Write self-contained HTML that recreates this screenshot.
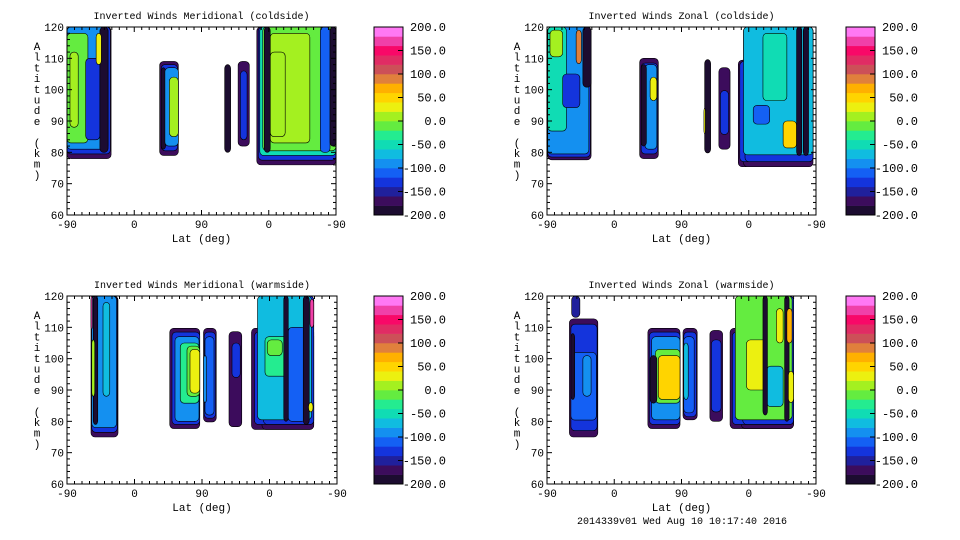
<!DOCTYPE html>
<html><head><meta charset="utf-8">
<style>
html,body{margin:0;padding:0;background:#fff;}
svg{display:block;}
text{font-family:"Liberation Mono",monospace;fill:#000;}
</style></head>
<body>
<svg id="fig" width="960" height="540" viewBox="0 0 960 540" xmlns="http://www.w3.org/2000/svg"></svg>
<script>
// ---- data (lat-track position 0..360 maps -90,0,90,0,-90 ; altitude km ; wind value m/s)
const xTickLabels = ["-90","0","90","0","-90"];
const xTickPos = [0,90,180,270,360];
const yTickVals = [60,70,80,90,100,110,120];
const cbarVals = [200,150,100,50,0,-50,-100,-150,-200];
const titles = ["Inverted Winds Meridional (coldside)","Inverted Winds Zonal (coldside)","Inverted Winds Meridional (warmside)","Inverted Winds Zonal (warmside)"];
// regions: [u0,u1,altLo,altHi,value]
const merCold = [
 [0,59,78,120,-170],[0,58,79.5,120,-140],[0,55,81,120,-100],[0,28,83,118,-20],[4,15,88,112,0],[25,44,84,110,-130],[44,55,80,120,-200],[39,46,108,118,20],
 [124,149,79,109,-170],[126,148,80.5,108,-140],[126,132,81,107,-200],[131,149,82,107,-90],[137,149,85,104,10],
 [211,219,80,108,-200],
 [229,244,82,109,-170],[232,241,84,106,-130],
 [254,360,76,120,-170],[256,360,77.5,120,-140],[258,360,79,120,-60],[262,360,80.5,120,-20],[272,325,83,118,0],[272,292,85,112,10],[264,272,80,120,-200],[339,352,80,120,-110],[352,360,82,120,-200]
];
const zonCold = [
 [1,59,77.6,120,-170],[1,58,78.5,120,-140],[1,56,79.5,120,-90],[1,26,86.8,120,-50],[4,21,110.5,119,10],[21,44,94.3,105,-130],[48,59,100.8,120,-200],[39,46,108.3,119,80],
 [124,149,78,110,-170],[126,148,79.5,108.5,-140],[131,147,81,108,-100],[126,133,82,108,-200],[138,147,96.5,104,30],
 [211,219,79.8,109.6,-200],[210,212,86,94,20],
 [230,245,81,107,-170],[232,243,85.7,99.7,-130],
 [256,272,75.4,109.4,-170],[263,356,75.4,120,-170],[258,356,77,109,-140],[265,356,77,120,-140],[263,356,79.2,120,-80],[289,321,96.5,118,-50],[276,298,89,95,-110],[316,334,81.4,90,50],[334,341,79,120,-200],[343,350,79,120,-200]
];
const merWarm = [
 [32,68,75,120,-170],[33,67,76.5,120,-140],[33,66,78,120,-100],[35,41,79,120,-200],[33,37,88,106,0],[48,57,88,118,-70],[32,34,109.5,120,160],
 [137,177,77.7,109.7,-170],[140,177,79,108.5,-140],[144,176,80,107,-100],[151,176,85.8,105,-40],[160,177,88,104,-10],[164,177,89,103,20],
 [182,199,79.8,109.7,-170],[183,198,81,108.5,-140],[184,196,82,107,-110],[182,186,86,101,-90],
 [216,233,78.3,108.6,-170],[220,231,94,105,-140],
 [246,329,77.4,109.7,-170],[260,329,77.4,120,-170],[250,329,79,108.5,-140],[262,329,79,120,-140],[254,326,80.5,120,-80],[264,302,94.4,107,-40],[267,287,101,106,-20],[295,318,80,110,-120],[315,323,79,120,-200],[289,295,80,120,-200],[324,329,110,119,160],[322,328,83,86,20]
];
const zonWarm = [
 [33,44,113.2,120,-160],
 [30,68,75,112.7,-170],[32,67,77,111,-140],[32,66,80.4,102,-120],[48,59,88,101,-100],[32,37,87,108,-200],
 [135,178,77.7,109.7,-170],[137,178,79,108.5,-140],[140,178,80.5,107,-90],[145,178,85.8,103,-10],[149,178,87,101,40],[138,147,85.8,101,-200],
 [182,201,80.5,109.7,-170],[183,200,81.5,108.5,-140],[183,197,82.7,107,-110],[183,189,87,105,-80],
 [218,235,80,109,-170],[220,233,83,106,-130],
 [245,330,77.7,109.7,-170],[260,330,77.7,120,-170],[248,330,79,108.5,-140],[262,330,79,120,-140],[252,328,80.5,120,-20],[267,294,90,106,20],[307,316,105,116,20],[294,316,84.7,97.6,-80],[289,295,82,120,-200],[318,324,80,120,-200],[321,328,105,116,70],[323,330,86,96,20]
];
const panelData = [merCold, zonCold, merWarm, zonWarm];
const bandColors = ["#1c0c30","#3c0c5c","#20209c","#1434dc","#1460f4","#1490f0","#10bce0","#10dcb4","#24ec90","#64ec40","#a4f020","#ecf010","#ffd400","#ffb000","#e0803c","#cc5058","#e02c64","#f80868","#f040a8","#ff78f4"];

// ---- layout
const panels = [
 {x0:67,x1:336,y0:27,y1:215,cb:374},
 {x0:547,x1:816,y0:27,y1:215,cb:846},
 {x0:67,x1:337,y0:296,y1:484,cb:374},
 {x0:547,x1:816,y0:296,y1:484,cb:846}
];
const NS="http://www.w3.org/2000/svg";
const svg=document.getElementById('fig');
function mk(tag,attrs,parent){const e=document.createElementNS(NS,tag);for(const k in attrs)e.setAttribute(k,attrs[k]);(parent||svg).appendChild(e);return e;}
function colorOf(v){let b=Math.floor((v+200)/20);b=Math.max(0,Math.min(19,b));return bandColors[b];}

panels.forEach((p,i)=>{
  const g=mk('g',{});
  
  
  const sx=u=>p.x0+(u/360)*(p.x1-p.x0);
  const sy=a=>p.y1-((a-60)/60)*(p.y1-p.y0);
  const cx=(p.x0+p.x1)/2;
  const t=mk('text',{x:cx,y:p.y0-8,'font-size':10,'text-anchor':'middle'},g);
  t.textContent=titles[i];
  
  
  const cid='clip'+i;
  const cp=mk('clipPath',{id:cid},g);mk('rect',{x:p.x0,y:p.y0,width:p.x1-p.x0,height:p.y1-p.y0},cp);
  const cg=mk('g',{'clip-path':'url(#'+cid+')'},g);
  panelData[i].forEach(r=>{
    const x=sx(r[0]),x2=sx(r[1]),y=sy(r[3]),y2=sy(r[2]);
    const el=mk('rect',{x:x,y:y,width:Math.max(1,x2-x),height:y2-y,rx:4,ry:4,fill:colorOf(r[4]),stroke:'#000','stroke-width':0.6},cg);
    
    
  });
  const fr=mk('rect',{x:p.x0,y:p.y0,width:p.x1-p.x0,height:p.y1-p.y0,fill:'none',stroke:'#000','stroke-width':1},g);
  
  
  for(let u=0;u<=360;u+=10){
    const x=sx(u),maj=(u%90===0),L=maj?5:3;
    mk('line',{x1:x,y1:p.y1,x2:x,y2:p.y1-L,stroke:'#000','stroke-width':1},g);
    mk('line',{x1:x,y1:p.y0,x2:x,y2:p.y0+L,stroke:'#000','stroke-width':1},g);
  }
  xTickPos.forEach((u,k)=>{
    const tl=mk('text',{x:sx(u),y:p.y1+13,'font-size':11,'text-anchor':'middle'},g);
    tl.textContent=xTickLabels[k];
    
    
  });
  const xl=mk('text',{x:cx,y:p.y1+27,'font-size':11,'text-anchor':'middle'},g);
  xl.textContent='Lat (deg)';
  
  
  for(let a=60;a<=120;a+=2){
    const y=sy(a),maj=(a%10===0),L=maj?5:3;
    mk('line',{x1:p.x0,y1:y,x2:p.x0+L,y2:y,stroke:'#000','stroke-width':1},g);
    mk('line',{x1:p.x1,y1:y,x2:p.x1-L,y2:y,stroke:'#000','stroke-width':1},g);
  }
  yTickVals.forEach(a=>{
    const tl=mk('text',{x:p.x0-3,y:sy(a)+4,'font-size':11,'text-anchor':'end'},g);
    tl.textContent=String(a);
    
    
  });
  const yl=mk('text',{x:p.x0-30,y:p.y0+23,'font-size':11,'text-anchor':'middle'},g);
  
  
  'Altitude (km)'.split('').forEach((ch,k)=>{const ts=mk('tspan',{x:p.x0-30,y:p.y0+23+k*10.7},yl);ts.textContent=ch;});
  const cbw=29,cbh=p.y1-p.y0;
  const cbg=mk('g',{},g);
  
  
  for(let b=0;b<20;b++){
    const y=p.y1-(b+1)*cbh/20;
    mk('rect',{x:p.cb,y:y,width:cbw,height:cbh/20+0.3,fill:bandColors[b]},cbg);
  }
  mk('rect',{x:p.cb,y:p.y0,width:cbw,height:cbh,fill:'none',stroke:'#000','stroke-width':1},cbg);
  cbarVals.forEach(v=>{
    const y=p.y1-((v+200)/400)*cbh;
    mk('line',{x1:p.cb+cbw-5,y1:y,x2:p.cb+cbw,y2:y,stroke:'#000','stroke-width':1},cbg);
    const tl=mk('text',{x:p.cb+72,y:y+4,'font-size':12,'text-anchor':'end'},cbg);
    tl.textContent=v.toFixed(1);
    
    
  });
});
const ft=mk('text',{x:577,y:524,'font-size':10});
ft.textContent='2014339v01 Wed Aug 10 10:17:40 2016';


</script>
</body></html>
